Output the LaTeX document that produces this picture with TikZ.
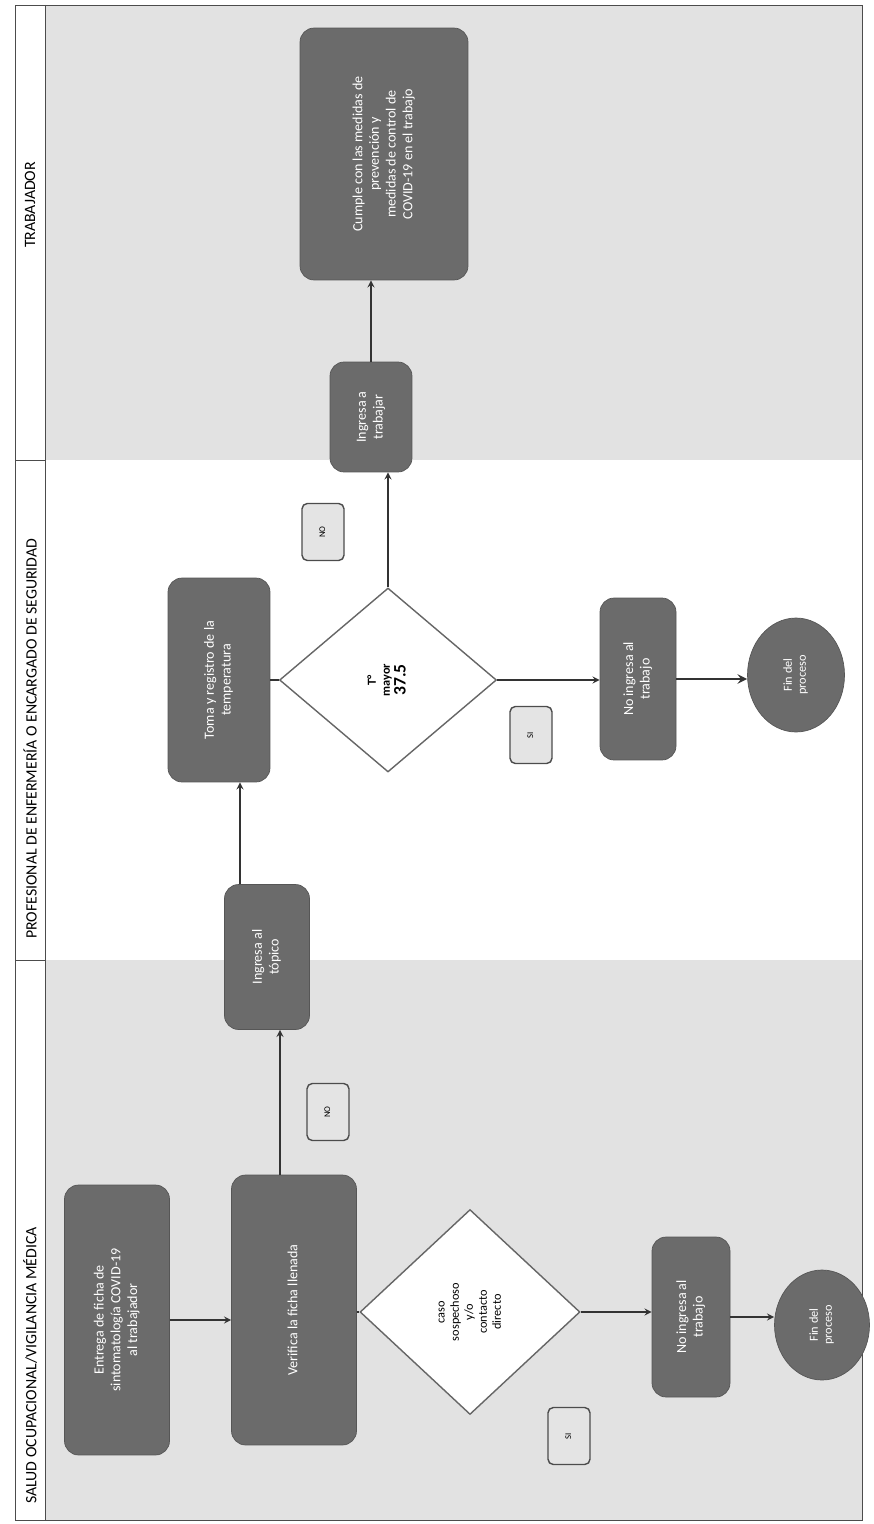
\documentclass[tikz,border=0pt]{standalone}
\usepackage{fontspec}
\setmainfont{Carlito}
\usepackage{graphicx}
\usepackage{tikz}
\usetikzlibrary{shapes.geometric, arrows}
\definecolor{cajagris}{HTML}{6B6B6B}
\definecolor{carril}{HTML}{E2E2E2}
\definecolor{etiq}{HTML}{E4E4E4}
\tikzstyle{flecha} = [thick,->,>=stealth,draw=black!80]
\tikzstyle{caja} = [rectangle, rounded corners=8pt, fill=cajagris, draw=cajagris!80!black, text=white, font=\footnotesize, inner sep=2pt]
\tikzstyle{decision} = [diamond, fill=white, draw=black!60, thick, font=\scriptsize, inner sep=0pt]
\tikzstyle{fin} = [ellipse, fill=cajagris, draw=cajagris!80!black, text=white, font=\scriptsize, inner sep=0pt]
\tikzstyle{etiqueta} = [rectangle, rounded corners=3pt, fill=etiq, draw=black!70, thick, font=\tiny, minimum width=0.84cm, minimum height=1.14cm]
\newcommand{\vtxt}[1]{\rotatebox{90}{\begin{tabular}{@{}c@{}}#1\end{tabular}}}

\begin{document}
\begin{tikzpicture}[x=0.02cm, y=-0.02cm]
			\useasboundingbox (0,0) rectangle (874,1524);
			%carriles
			\fill[carril](45,960) rectangle (862,1520);
			\fill[carril](45,5) rectangle (862,460);
			\draw[black!70] (15,5) rectangle (862,1520);
			\draw[black!70] (45,5) -- (45,1520);
			\draw[black!70] (15,460) -- (45,460);
			\draw[black!70] (15,960) -- (45,960);
			\node[anchor=west, rotate=90, font=\small] (c1) at (30,1510) {SALUD OCUPACIONAL/VIGILANCIA MÉDICA};
			\node[anchor=west, rotate=90, font=\small] (c2) at (30,945) {PROFESIONAL DE ENFERMERÍA O ENCARGADO DE SEGURIDAD};
			\node[rotate=90, font=\small] (c3) at (30,205) {TRABAJADOR};
			
			%salud ocupacional
			\node[caja, minimum width=2.1cm, minimum height=5.4cm] (ficha) at (117,1320) {\vtxt{Entrega de ficha de\\sintomatología COVID-19\\al trabajador}};
			\node[caja, minimum width=2.5cm, minimum height=5.4cm] (verif) at (294,1310) {\vtxt{Verifica la ficha llenada}};
			\node[decision, minimum width=4.4cm, minimum height=4.1cm] (dia1) at (470,1312) {\vtxt{caso\\sospechoso\\y/o\\contacto\\directo}};
			\node[caja, minimum width=1.56cm, minimum height=3.2cm] (noing1) at (691,1317) {\vtxt{No ingresa al\\trabajo}};
			\node[fin, minimum width=1.9cm, minimum height=2.2cm] (fin1) at (822,1325) {\vtxt{Fin del\\proceso}};
			\node[etiqueta] (si1) at (569,1436) {\vtxt{SI}};
			\node[etiqueta] (no1) at (328,1112) {\vtxt{NO}};
			
			%enfermeria
			\node[caja, minimum width=1.7cm, minimum height=2.9cm] (ingreso) at (267,957) {\vtxt{Ingresa al\\tópico}};
			\node[caja, minimum width=2.04cm, minimum height=4.08cm] (toma) at (219,680) {\vtxt{Toma y registro de la\\temperatura}};
			\node[decision, minimum width=4.34cm, minimum height=3.68cm] (dia2) at (388,680) {\vtxt{\textbf{T°}\\\textbf{mayor}\\\textbf{\normalsize 37.5}}};
			\node[caja, minimum width=1.52cm, minimum height=3.24cm] (noing2) at (638,679) {\vtxt{No ingresa al\\trabajo}};
			\node[fin, minimum width=1.94cm, minimum height=2.28cm] (fin2) at (796,675) {\vtxt{Fin del\\proceso}};
			\node[etiqueta] (no2) at (323,532) {\vtxt{NO}};
			\node[etiqueta] (si2) at (531,735) {\vtxt{SI}};
			
			%trabajador
			\node[caja, minimum width=1.64cm, minimum height=2.2cm] (ingresa) at (371,417) {\vtxt{Ingresa a\\trabajar}};
			\node[caja, minimum width=3.36cm, minimum height=5.04cm] (cumple) at (384,154) {\vtxt{Cumple con las medidas de\\prevención y\\medidas de control de\\COVID-19 en el trabajo}};
			
			%conectores
			\draw[flecha] (ficha.east) -- (ficha.east -| verif.west);
			\draw[thick, black!80] (verif.east |- dia1.west) -- (dia1.west);
			\draw[flecha] ([xshift=-0.28cm]verif.north) -- ([xshift=-0.28cm]verif.north |- ingreso.south);
			\draw[flecha] (dia1.east) -- (dia1.east -| noing1.west);
			\draw[flecha] (noing1.east) -- (noing1.east -| fin1.west);
			\draw[flecha] ([xshift=-0.54cm]ingreso.north) -- ([xshift=-0.54cm]ingreso.north |- toma.south);
			\draw[thick, black!80] (toma.east |- dia2.west) -- (dia2.west);
			\draw[flecha] (dia2.north) -- (dia2.north |- ingresa.south);
			\draw[flecha] (ingresa.north) -- (ingresa.north |- cumple.south);
			\draw[flecha] (dia2.east) -- (dia2.east -| noing2.west);
			\draw[flecha, line width=1.4pt] (noing2.east) -- (noing2.east -| fin2.west);
			
		\end{tikzpicture}
\end{document}
